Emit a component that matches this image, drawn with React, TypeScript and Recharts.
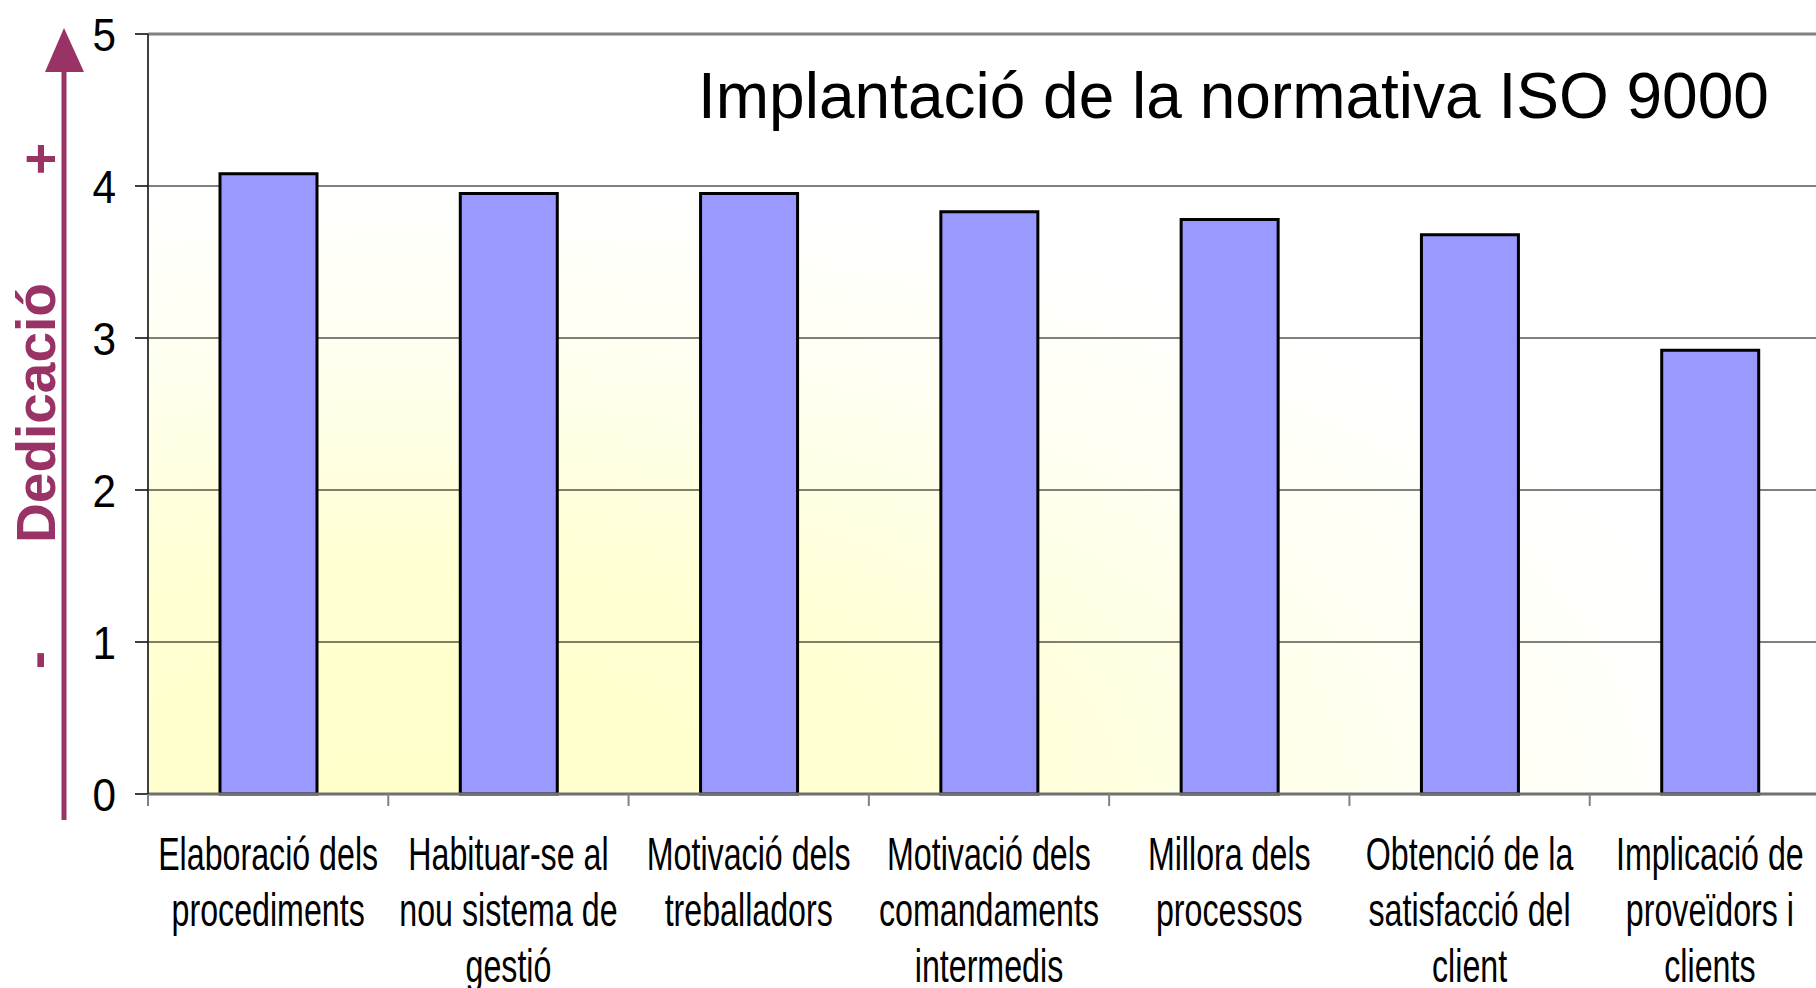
import { Bar, BarChart, CartesianGrid, ReferenceLine, XAxis, YAxis } from 'recharts'

const CATEGORIES = [
  'Elaboració dels\nprocediments',
  'Habituar-se al\nnou sistema de\ngestió',
  'Motivació dels\ntreballadors',
  'Motivació dels\ncomandaments\nintermedis',
  'Millora dels\nprocessos',
  'Obtenció de la\nsatisfacció del\nclient',
  'Implicació de\nproveïdors i\nclients',
]
const VALUES = [4.08, 3.95, 3.95, 3.83, 3.78, 3.68, 2.92]
const Y_TICKS = [0, 1, 2, 3, 4, 5]
const TITLE = 'Implantació de la normativa ISO 9000'
const AXIS_TITLE = 'Dedicació'

const data = CATEGORIES.map((name, i) => ({ name, value: VALUES[i] }))

const CHART_W = 1838
const CHART_H = 988
const MARGIN = { top: 34, right: 8, left: 0, bottom: 134 }
const Y_AXIS_W = 148
const BAND = (CHART_W - MARGIN.left - MARGIN.right - Y_AXIS_W) / CATEGORIES.length
const PURPLE = '#993366'
const FONT = "'Liberation Sans', Arial, sans-serif"

function XTick({ x, y, payload }: any) {
  const lines = String(payload.value).split('\n')
  const edge = x - BAND / 2
  return (
    <g>
      <line x1={edge} x2={edge} y1={y - 12} y2={y} stroke="#808080" strokeWidth={2} />
      {lines.map((line, i) => (
        <text
          key={i}
          transform={`translate(${x},${y + 64 + i * 56}) scale(0.685,1)`}
          textAnchor="middle"
          fontSize={47}
          fill="#000"
        >
          {line}
        </text>
      ))}
    </g>
  )
}

function YTick({ x, y, payload }: any) {
  return (
    <text transform={`translate(${x},${y}) scale(0.9,1)`} textAnchor="end" dy="0.355em" fontSize={47} fill="#000">
      {payload.value}
    </text>
  )
}

export default function App() {
  return (
    <div
      style={{
        position: 'fixed',
        top: 0,
        left: 0,
        width: 1816,
        height: 988,
        overflow: 'hidden',
        background: '#fff',
        fontFamily: FONT,
      }}
    >
      <BarChart width={CHART_W} height={CHART_H} data={data} margin={MARGIN}>
        <defs>
          <radialGradient id="plotBg" cx="0.15" cy="1" r="0.8" gradientUnits="objectBoundingBox">
            <stop offset="0" stopColor="#FFFFCC" />
            <stop offset="0.35" stopColor="#FFFFD0" />
            <stop offset="0.75" stopColor="#FFFFF2" />
            <stop offset="1" stopColor="#FFFFFF" />
          </radialGradient>
        </defs>
        <CartesianGrid vertical={false} stroke="#000" strokeWidth={1.2} fill="url(#plotBg)" />
        <XAxis
          dataKey="name"
          interval={0}
          height={60}
          tickSize={12}
          tickMargin={0}
          tickLine={false}
          axisLine={{ stroke: '#707070', strokeWidth: 3 }}
          tick={<XTick />}
        />
        <YAxis
          width={Y_AXIS_W}
          domain={[0, 5]}
          ticks={Y_TICKS}
          interval={0}
          tickSize={13}
          tickMargin={19}
          axisLine={{ stroke: '#404040', strokeWidth: 2 }}
          tickLine={{ stroke: '#000', strokeWidth: 1.5 }}
          tick={<YTick />}
        />
        <ReferenceLine y={5} stroke="#808080" strokeWidth={3} />
        <Bar dataKey="value" fill="#9999FF" stroke="#000" strokeWidth={3} barSize={97} isAnimationActive={false} />
      </BarChart>
      <svg
        width={1816}
        height={988}
        style={{ position: 'absolute', top: 0, left: 0, pointerEvents: 'none' }}
      >
        <line x1={64} x2={64} y1={70} y2={820} stroke={PURPLE} strokeWidth={5} />
        <polygon points="64,28 45,72 84,72" fill={PURPLE} />
        <text
          x={55}
          y={413}
          transform="rotate(-90 55 413)"
          textAnchor="middle"
          fontSize={55}
          fontWeight="bold"
          fill={PURPLE}
        >
          {AXIS_TITLE}
        </text>
        <text x={59} y={159} transform="rotate(-90 59 159)" textAnchor="middle" fontSize={55} fontWeight="bold" fill={PURPLE}>
          +
        </text>
        <text x={55} y={660} transform="rotate(-90 55 660)" textAnchor="middle" fontSize={55} fontWeight="bold" fill={PURPLE}>
          -
        </text>
        <text x={698} y={118} fontSize={64} fill="#000">
          {TITLE}
        </text>
      </svg>
    </div>
  )
}
